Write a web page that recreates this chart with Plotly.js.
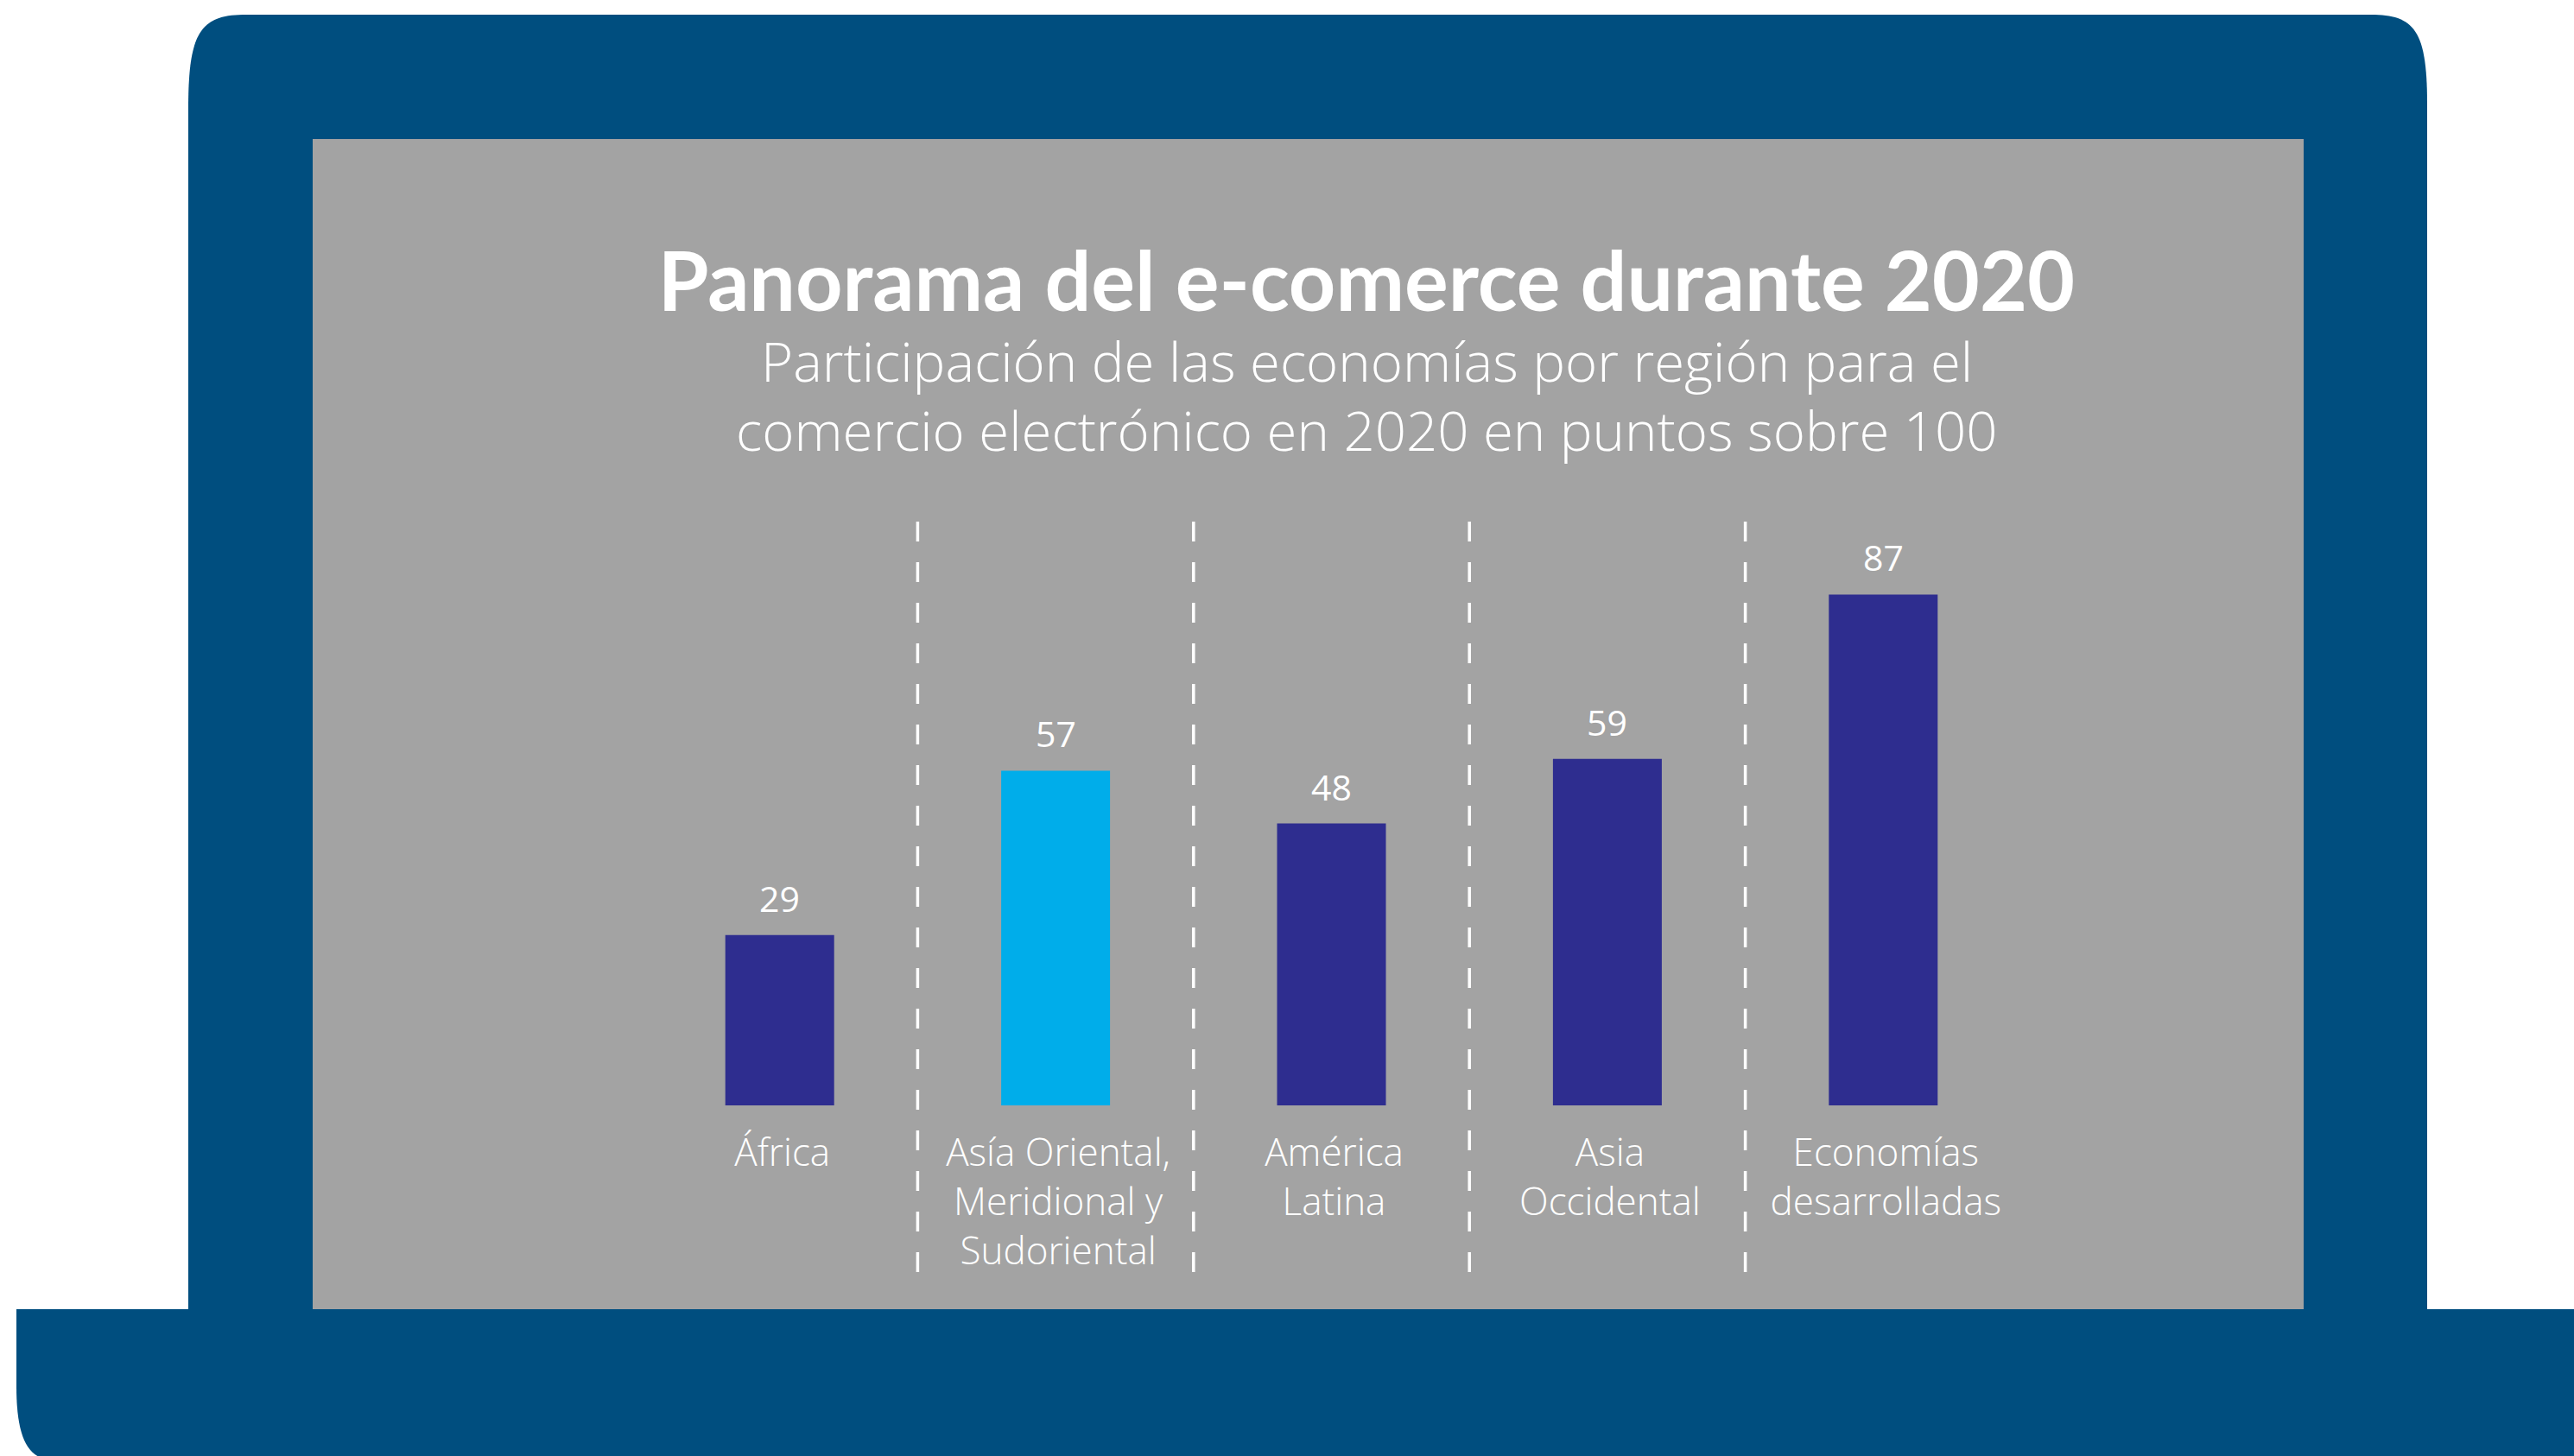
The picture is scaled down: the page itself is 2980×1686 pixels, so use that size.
<!DOCTYPE html>
<html><head><meta charset="utf-8">
<script src="https://cdn.plot.ly/plotly-3.0.1.min.js"></script>
<style>html,body{margin:0;padding:0;background:#fff;overflow:hidden;}</style>
</head><body><div id="chart" style="width:2980px;height:1686px;"></div>
<script>
// ---- data ----
const categories = ["África", "Asía Oriental, Meridional y Sudoriental", "América Latina", "Asia Occidental", "Economías desarrolladas"];
const tickLabels = ["África", "Asía Oriental,<br>Meridional y<br>Sudoriental", "América<br>Latina", "Asia<br>Occidental", "Economías<br>desarrolladas"];
const values = [29, 57, 48, 59, 87];
const highlighted = [false, true, false, false, false];
const titleText = "Panorama del e-comerce durante 2020";
const subtitleLines = ["Participación de las economías por región para el", "comercio electrónico en 2020 en puntos sobre 100"];

// ---- styles / geometry ----
const W = 2980, H = 1686;
const M = {l: 743, r: 640, t: 600, b: 406};
const pw = W - M.l - M.r, ph = H - M.t - M.b;
const px = x => (x - M.l) / pw;
const py = y => 1 - (y - M.t) / ph;
const LAPTOP = '#004E7F', SCREEN = '#A3A3A3', BAR = '#2E2D8F', HIGHLIGHT = '#00ADEA';
const FONT_LIGHT = '"Open Sans", Lato, sans-serif';
const FONT_BOLD = 'Lato, "Open Sans", sans-serif';

function path(points) {
  return points.map(p => {
    const nums = p.slice(1);
    const pairs = [];
    for (let i = 0; i < nums.length; i += 2) pairs.push(px(nums[i]).toFixed(5) + ',' + py(nums[i + 1]).toFixed(5));
    return p[0] + ' ' + pairs.join(' ');
  }).join(' ') + ' Z';
}

const lid = path([
  ['M', 218, 1530], ['L', 218, 125], ['C', 218, 35, 233, 17, 285, 17],
  ['L', 2745, 17], ['C', 2795, 17, 2810, 35, 2810, 120], ['L', 2810, 1530]
]);
const base = path([
  ['M', 19, 1516], ['L', 2980, 1516], ['L', 2980, 1690], ['L', 60, 1690],
  ['C', 30, 1690, 19, 1660, 19, 1605]
]);

const shapes = [
  {type: 'path', path: lid, xref: 'paper', yref: 'paper', fillcolor: LAPTOP, line: {width: 0}, layer: 'below'},
  {type: 'rect', xref: 'paper', yref: 'paper', x0: px(362), x1: px(2667), y0: py(161), y1: py(1516), fillcolor: SCREEN, line: {width: 0}, layer: 'below'},
  {type: 'path', path: base, xref: 'paper', yref: 'paper', fillcolor: LAPTOP, line: {width: 0}, layer: 'below'}
];
for (let i = 0; i < categories.length - 1; i++) {
  shapes.push({type: 'line', xref: 'x', yref: 'paper', x0: i + 0.5, x1: i + 0.5, y0: py(604), y1: py(1478),
    line: {color: '#FFFFFF', width: 3.5, dash: '23px,24px'}, layer: 'above'});
}

const annotations = values.map((v, i) => ({
  x: categories[i], y: v, xref: 'x', yref: 'y', text: String(v), showarrow: false,
  yanchor: 'bottom', xanchor: 'center', yshift: 13,
  font: {family: FONT_LIGHT, size: 41, color: '#FFFFFF', weight: 400}
}));
const subCenters = [417, 497];
subtitleLines.forEach((t, i) => annotations.push({
  x: px(1582), y: py(subCenters[i]), xref: 'paper', yref: 'paper', text: t, showarrow: false,
  xanchor: 'center', yanchor: 'middle',
  font: {family: FONT_LIGHT, size: 63.5, color: '#FFFFFF', weight: 300}
}));

const trace = {
  type: 'bar', x: categories, y: values,
  marker: {color: highlighted.map(h => h ? HIGHLIGHT : BAR), line: {width: 0}},
  hoverinfo: 'x+y'
};

const layout = {
  width: W, height: H,
  margin: {l: M.l, r: M.r, t: M.t, b: M.b, pad: 0},
  paper_bgcolor: '#FFFFFF', plot_bgcolor: 'rgba(0,0,0,0)',
  showlegend: false, bargap: 0.6055,
  title: {
    text: '<b>' + titleText + '</b>', x: 1582 / W, xref: 'container', xanchor: 'center',
    y: 1 - 293 / H, yref: 'container', yanchor: 'top',
    font: {family: FONT_BOLD, size: 95, color: '#FFFFFF', weight: 700}
  },
  xaxis: {
    type: 'category', range: [-0.5, categories.length - 0.5], autorange: false,
    tickvals: categories, ticktext: tickLabels,
    showgrid: false, zeroline: false, showline: false, ticks: '',
    ticklabelstandoff: 25, ticklabelshift: 3,
    tickfont: {family: FONT_LIGHT, size: 44, color: '#FFFFFF', weight: 300}
  },
  yaxis: {range: [0, 100], autorange: false, visible: false, showgrid: false, zeroline: false},
  shapes: shapes, annotations: annotations
};

Plotly.newPlot('chart', [trace], layout, {displayModeBar: false, staticPlot: true});
</script>
</body></html>
